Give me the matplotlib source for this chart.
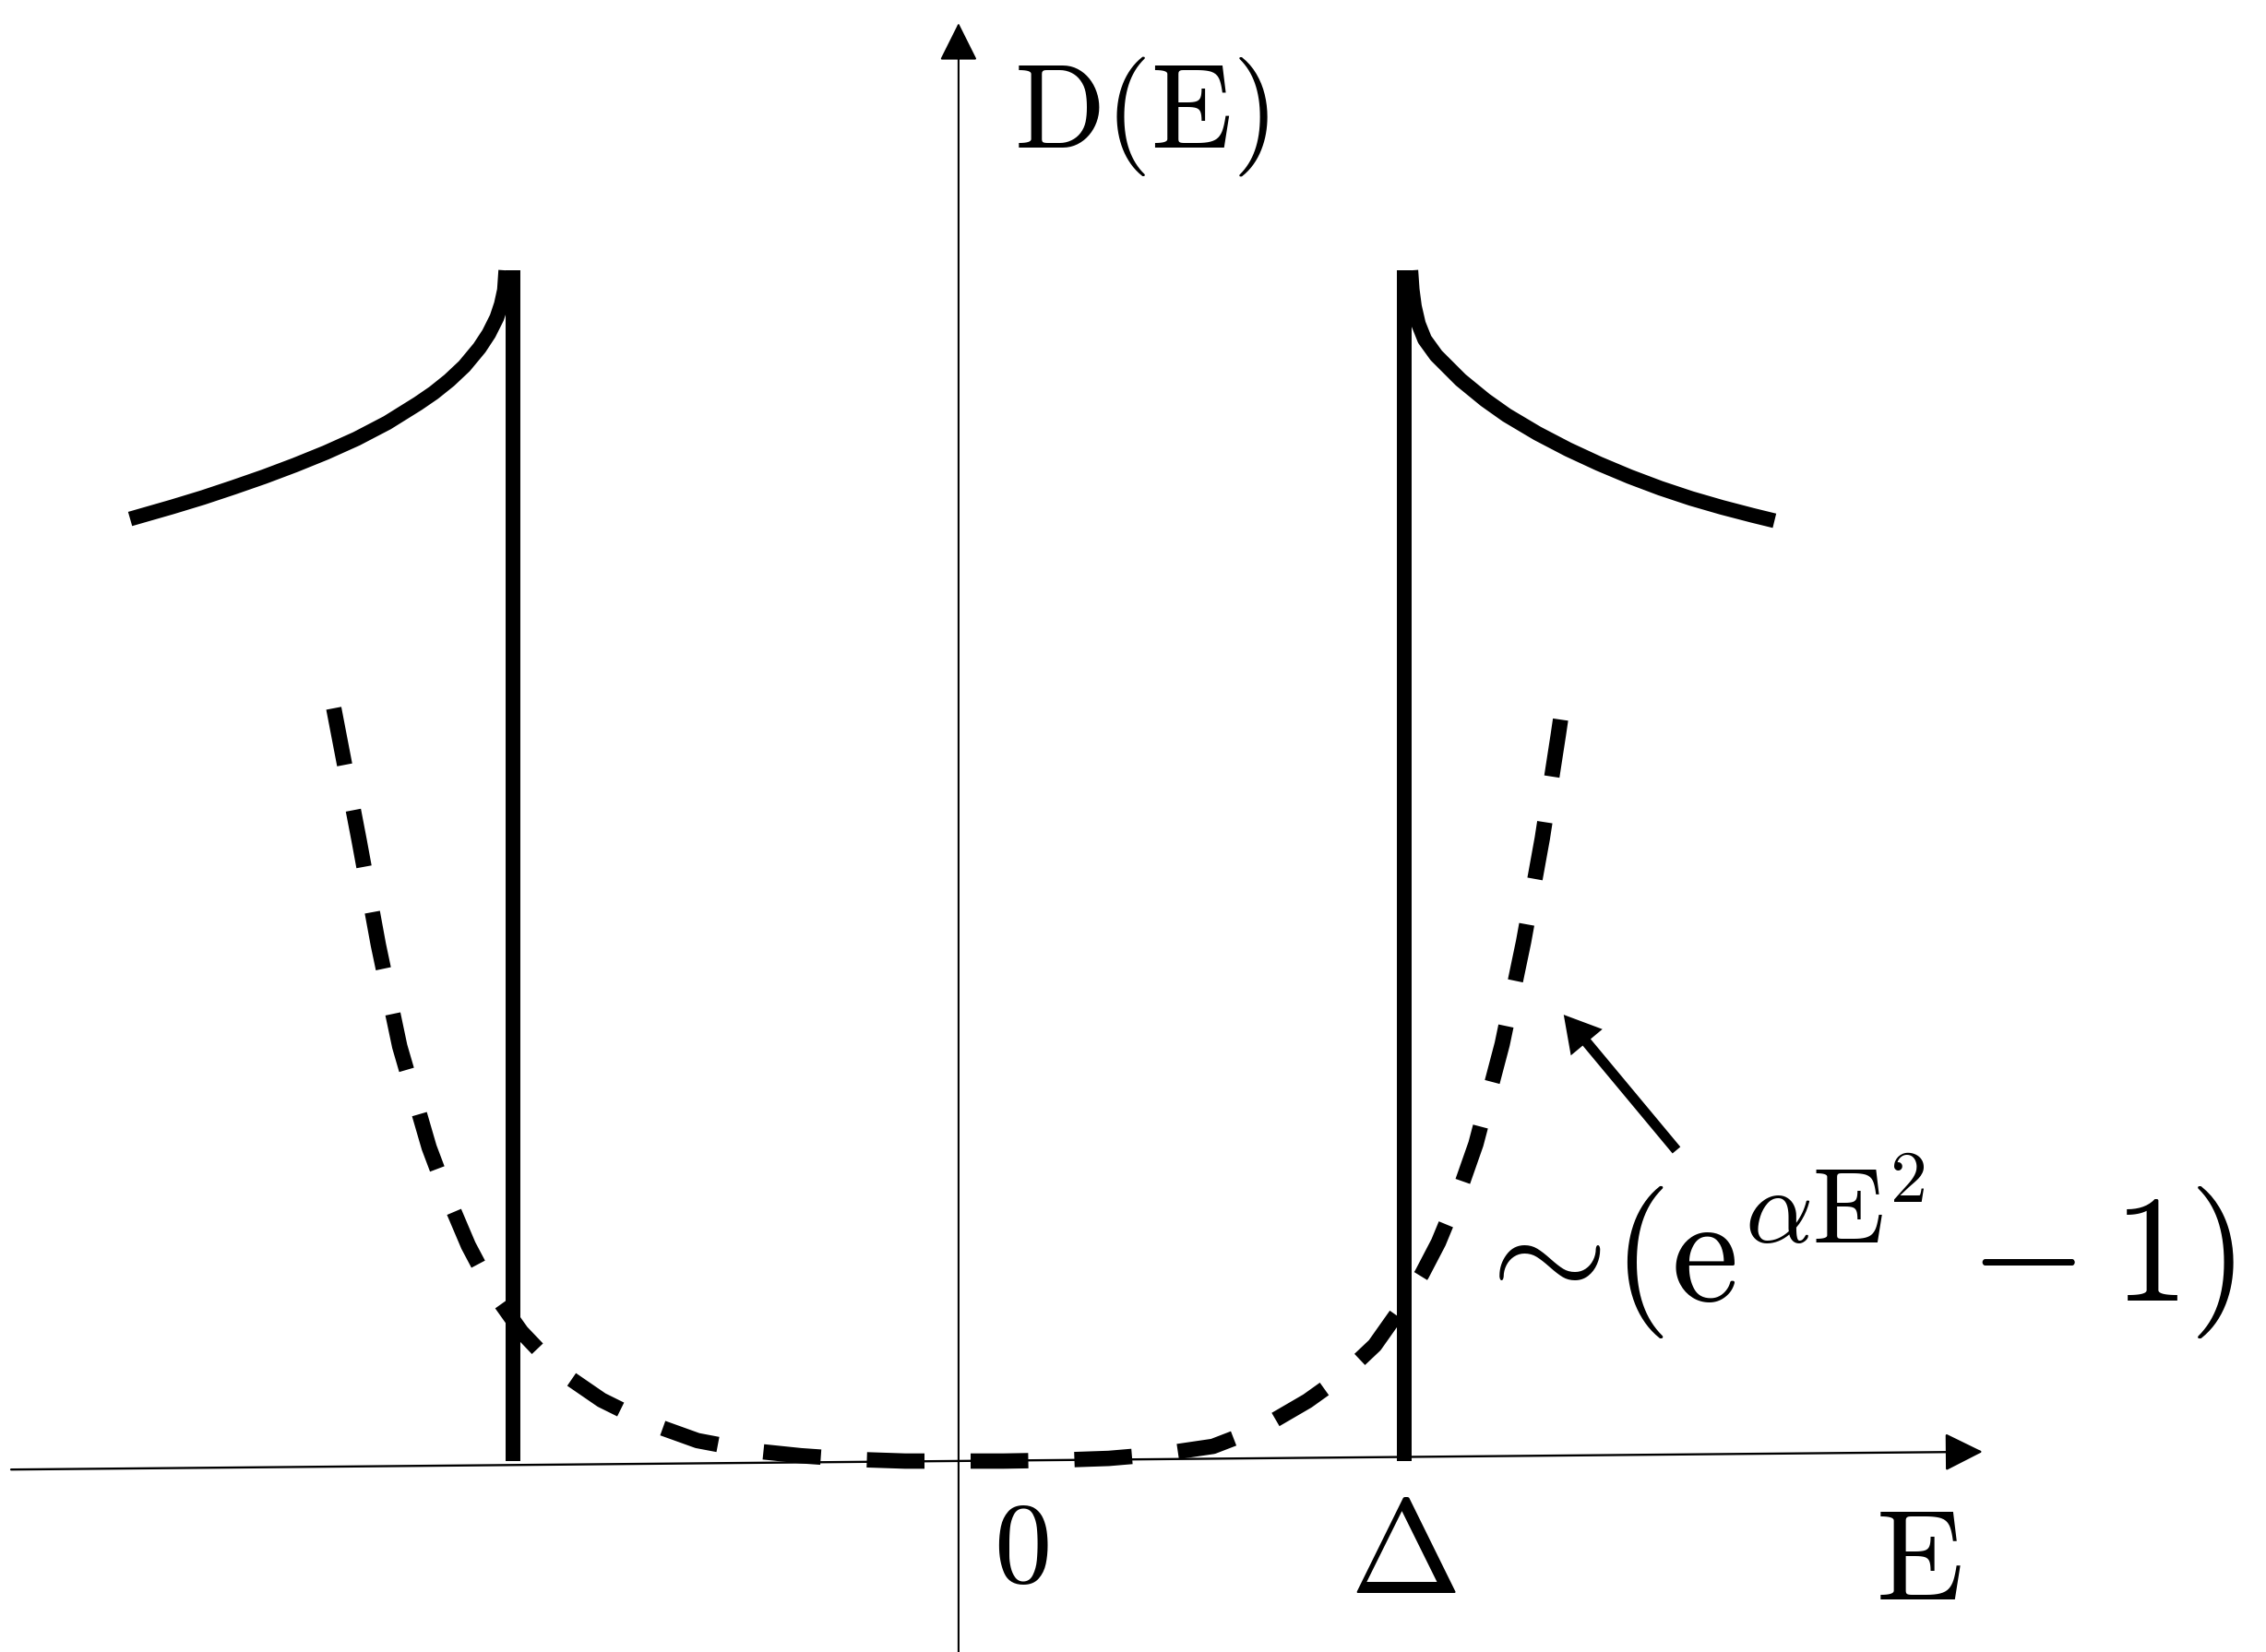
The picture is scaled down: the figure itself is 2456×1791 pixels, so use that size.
import matplotlib
matplotlib.use("Agg")
import matplotlib.pyplot as plt

plt.rcParams['mathtext.fontset'] = 'cm'
plt.rcParams['lines.scale_dashes'] = False

# energies in units of the gap Delta, D(E) in arbitrary units
gap = 1.0
peak_height = 2.673

# coherence peaks
peak_left_E = [-1.859, -1.765, -1.696, -1.627, -1.558, -1.489, -1.420, -1.351, -1.282, -1.213, -1.178,
               -1.143, -1.109, -1.075, -1.054, -1.036, -1.026, -1.019, -1.016]
peak_left_D = [2.115, 2.142, 2.163, 2.186, 2.210, 2.236, 2.264, 2.295, 2.331, 2.374, 2.398,
               2.426, 2.458, 2.499, 2.531, 2.567, 2.597, 2.629, 2.673]
peak_right_E = [1.015, 1.018, 1.023, 1.032, 1.046, 1.072, 1.127, 1.182, 1.230, 1.299, 1.368, 1.437,
                1.506, 1.575, 1.644, 1.713, 1.782, 1.831]
peak_right_D = [2.673, 2.630, 2.592, 2.553, 2.518, 2.482, 2.427, 2.382, 2.348, 2.307, 2.271, 2.239,
                2.210, 2.184, 2.161, 2.141, 2.123, 2.111]

# in-gap tail ~ (exp(alpha E^2) - 1), dashed
tail_E = [-1.402, -1.345, -1.302, -1.254, -1.188, -1.145, -1.100, -1.045, -0.981, -0.900, -0.801, -0.700,
          -0.586, -0.470, -0.354, -0.240, -0.120, 0.0, 0.101, 0.220, 0.337, 0.455, 0.571, 0.680, 0.783,
          0.860, 0.934, 0.994, 1.040, 1.077, 1.120, 1.161, 1.220, 1.268, 1.310, 1.346, 1.357]
tail_D = [1.690, 1.393, 1.159, 0.931, 0.704, 0.590, 0.484, 0.380, 0.290, 0.205, 0.137, 0.087,
          0.046, 0.024, 0.012, 0.004, 0.0, 0.0, 0.0, 0.002, 0.006, 0.016, 0.033, 0.075, 0.135,
          0.190, 0.260, 0.345, 0.420, 0.491, 0.595, 0.712, 0.936, 1.166, 1.398, 1.631, 1.706]

# axes of the sketch (horizontal one is slightly tilted in the original)
E_axis = [-2.126, 2.298]
D_axis = [-0.019, 0.021]
D_axis_top = 3.228

fig = plt.figure(figsize=(24.56, 17.91), dpi=100)
ax = fig.add_axes([0, 0, 1, 1])
ax.set_xlim(-2.151, 2.934)
ax.set_ylim(-0.4286, 3.280)
ax.axis('off')

# axes with arrow heads
ax.annotate("", xy=(E_axis[1], D_axis[1]), xytext=(E_axis[0], D_axis[0]),
            arrowprops=dict(arrowstyle='-|>,head_length=0.5,head_width=0.25', mutation_scale=52,
                            lw=1.7, color='black', shrinkA=0, shrinkB=0))
ax.annotate("", xy=(0, D_axis_top), xytext=(0, -0.45),
            arrowprops=dict(arrowstyle='-|>,head_length=0.5,head_width=0.25', mutation_scale=52,
                            lw=1.5, color='black', shrinkA=0, shrinkB=0))

# gap edges and coherence peaks
ax.plot([-gap, -gap], [0, peak_height], color='black', lw=11.5, solid_capstyle='butt')
ax.plot([gap, gap], [0, peak_height], color='black', lw=11.5, solid_capstyle='butt')
ax.plot(peak_left_E, peak_left_D, color='black', lw=11.5, solid_capstyle='butt', solid_joinstyle='round')
ax.plot(peak_right_E, peak_right_D, color='black', lw=11.5, solid_capstyle='butt', solid_joinstyle='round')

# dashed sub-gap tail
tail, = ax.plot(tail_E, tail_D, color='black', lw=12, dash_capstyle='butt', dash_joinstyle='round')
tail.set_dashes((45, 36))

# pointer to the tail
ax.annotate("", xy=(1.358, 1.002), xytext=(1.611, 0.698),
            arrowprops=dict(arrowstyle='simple,head_length=0.7,head_width=0.8,tail_width=0.2',
                            mutation_scale=40, lw=0, fc='black', ec='none', shrinkA=0, shrinkB=0))

# labels
ax.text(0.410, 2.952, r'$\mathrm{D(E)}$', fontsize=93, ha='center', va='baseline')
ax.text(0.141, -0.271, r'$0$', fontsize=90, ha='center', va='baseline')
ax.text(0.998, -0.296, r'$\Delta$', fontsize=104, ha='center', va='baseline')
ax.text(2.155, -0.308, r'$\mathrm{E}$', fontsize=100, ha='center', va='baseline')
ax.text(1.135, 0.360, r'$\sim\!(\mathrm{e}^{\alpha\mathrm{E}^{2}} - 1)$', fontsize=118,
        ha='left', va='baseline')

fig.savefig('out.png', dpi=100, facecolor='white')
